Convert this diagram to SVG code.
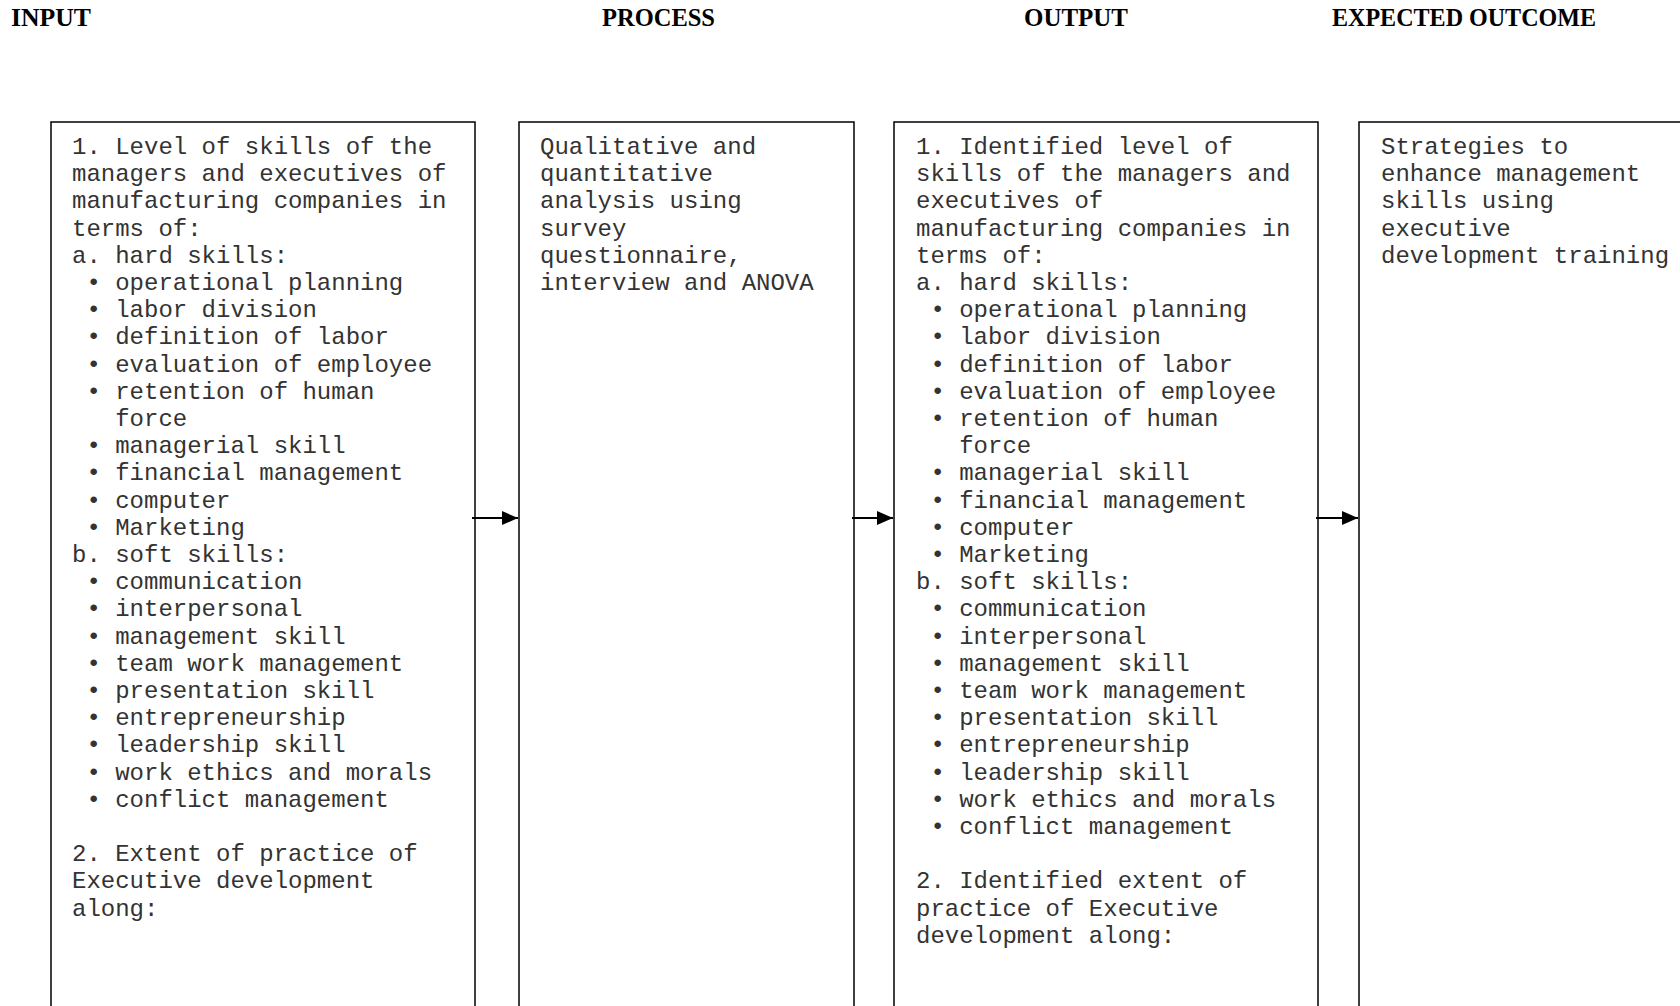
<svg xmlns="http://www.w3.org/2000/svg" width="1680" height="1006" viewBox="0 0 1680 1006">
<style>
.hdr{font-family:"Liberation Serif","Times New Roman",serif;font-weight:bold;font-size:24.5px;fill:#000}
.box{fill:#fff;stroke:#000;stroke-width:1.5}
.t{font-family:"Liberation Mono","Courier New",monospace;font-size:24px;fill:#333;white-space:pre}
.conn{stroke:#000;stroke-width:2;fill:none}
</style>
<defs>
<marker id="ah" markerUnits="userSpaceOnUse" markerWidth="16" markerHeight="14" refX="16" refY="7" orient="auto">
<path d="M0,0 L16,7 L0,14 Z" fill="#000"/>
</marker>
</defs>
<rect width="1680" height="1006" fill="#fff"/>
<g id="headers">
<text class="hdr" x="11" y="26" textLength="80" lengthAdjust="spacingAndGlyphs">INPUT</text>
<text class="hdr" x="602" y="26" textLength="113" lengthAdjust="spacingAndGlyphs">PROCESS</text>
<text class="hdr" x="1024" y="26" textLength="104" lengthAdjust="spacingAndGlyphs">OUTPUT</text>
<text class="hdr" x="1332" y="26" textLength="264" lengthAdjust="spacingAndGlyphs">EXPECTED OUTCOME</text>
</g>
<g id="input">
<rect class="box" x="51" y="122" width="424" height="900"/>
<text class="t" xml:space="preserve" y="154">
<tspan x="72" y="154">1. Level of skills of the</tspan>
<tspan x="72" dy="27.2">managers and executives of</tspan>
<tspan x="72" dy="27.2">manufacturing companies in</tspan>
<tspan x="72" dy="27.2">terms of:</tspan>
<tspan x="72" dy="27.2">a. hard skills:</tspan>
<tspan x="72" dy="27.2"> • operational planning</tspan>
<tspan x="72" dy="27.2"> • labor division</tspan>
<tspan x="72" dy="27.2"> • definition of labor</tspan>
<tspan x="72" dy="27.2"> • evaluation of employee</tspan>
<tspan x="72" dy="27.2"> • retention of human</tspan>
<tspan x="72" dy="27.2">   force</tspan>
<tspan x="72" dy="27.2"> • managerial skill</tspan>
<tspan x="72" dy="27.2"> • financial management</tspan>
<tspan x="72" dy="27.2"> • computer</tspan>
<tspan x="72" dy="27.2"> • Marketing</tspan>
<tspan x="72" dy="27.2">b. soft skills:</tspan>
<tspan x="72" dy="27.2"> • communication</tspan>
<tspan x="72" dy="27.2"> • interpersonal</tspan>
<tspan x="72" dy="27.2"> • management skill</tspan>
<tspan x="72" dy="27.2"> • team work management</tspan>
<tspan x="72" dy="27.2"> • presentation skill</tspan>
<tspan x="72" dy="27.2"> • entrepreneurship</tspan>
<tspan x="72" dy="27.2"> • leadership skill</tspan>
<tspan x="72" dy="27.2"> • work ethics and morals</tspan>
<tspan x="72" dy="27.2"> • conflict management</tspan>
<tspan x="72" dy="54.4">2. Extent of practice of</tspan>
<tspan x="72" dy="27.2">Executive development</tspan>
<tspan x="72" dy="27.2">along:</tspan>
</text>
</g>
<g id="process">
<rect class="box" x="519" y="122" width="335" height="900"/>
<text class="t" xml:space="preserve" y="154">
<tspan x="540" y="154">Qualitative and</tspan>
<tspan x="540" dy="27.2">quantitative</tspan>
<tspan x="540" dy="27.2">analysis using</tspan>
<tspan x="540" dy="27.2">survey</tspan>
<tspan x="540" dy="27.2">questionnaire,</tspan>
<tspan x="540" dy="27.2">interview and ANOVA</tspan>
</text>
</g>
<g id="output">
<rect class="box" x="894" y="122" width="424" height="900"/>
<text class="t" xml:space="preserve" y="154">
<tspan x="916" y="154">1. Identified level of</tspan>
<tspan x="916" dy="27.2">skills of the managers and</tspan>
<tspan x="916" dy="27.2">executives of</tspan>
<tspan x="916" dy="27.2">manufacturing companies in</tspan>
<tspan x="916" dy="27.2">terms of:</tspan>
<tspan x="916" dy="27.2">a. hard skills:</tspan>
<tspan x="916" dy="27.2"> • operational planning</tspan>
<tspan x="916" dy="27.2"> • labor division</tspan>
<tspan x="916" dy="27.2"> • definition of labor</tspan>
<tspan x="916" dy="27.2"> • evaluation of employee</tspan>
<tspan x="916" dy="27.2"> • retention of human</tspan>
<tspan x="916" dy="27.2">   force</tspan>
<tspan x="916" dy="27.2"> • managerial skill</tspan>
<tspan x="916" dy="27.2"> • financial management</tspan>
<tspan x="916" dy="27.2"> • computer</tspan>
<tspan x="916" dy="27.2"> • Marketing</tspan>
<tspan x="916" dy="27.2">b. soft skills:</tspan>
<tspan x="916" dy="27.2"> • communication</tspan>
<tspan x="916" dy="27.2"> • interpersonal</tspan>
<tspan x="916" dy="27.2"> • management skill</tspan>
<tspan x="916" dy="27.2"> • team work management</tspan>
<tspan x="916" dy="27.2"> • presentation skill</tspan>
<tspan x="916" dy="27.2"> • entrepreneurship</tspan>
<tspan x="916" dy="27.2"> • leadership skill</tspan>
<tspan x="916" dy="27.2"> • work ethics and morals</tspan>
<tspan x="916" dy="27.2"> • conflict management</tspan>
<tspan x="916" dy="54.4">2. Identified extent of</tspan>
<tspan x="916" dy="27.2">practice of Executive</tspan>
<tspan x="916" dy="27.2">development along:</tspan>
</text>
</g>
<g id="outcome">
<rect class="box" x="1359" y="122" width="400" height="900"/>
<text class="t" xml:space="preserve" y="154">
<tspan x="1381" y="154">Strategies to</tspan>
<tspan x="1381" dy="27.2">enhance management</tspan>
<tspan x="1381" dy="27.2">skills using</tspan>
<tspan x="1381" dy="27.2">executive</tspan>
<tspan x="1381" dy="27.2">development training</tspan>
</text>
</g>
<g id="connectors">
<line class="conn" x1="472" y1="518" x2="518" y2="518" marker-end="url(#ah)"/>
<line class="conn" x1="852" y1="518" x2="893" y2="518" marker-end="url(#ah)"/>
<line class="conn" x1="1316" y1="518" x2="1358" y2="518" marker-end="url(#ah)"/>
</g>
</svg>
